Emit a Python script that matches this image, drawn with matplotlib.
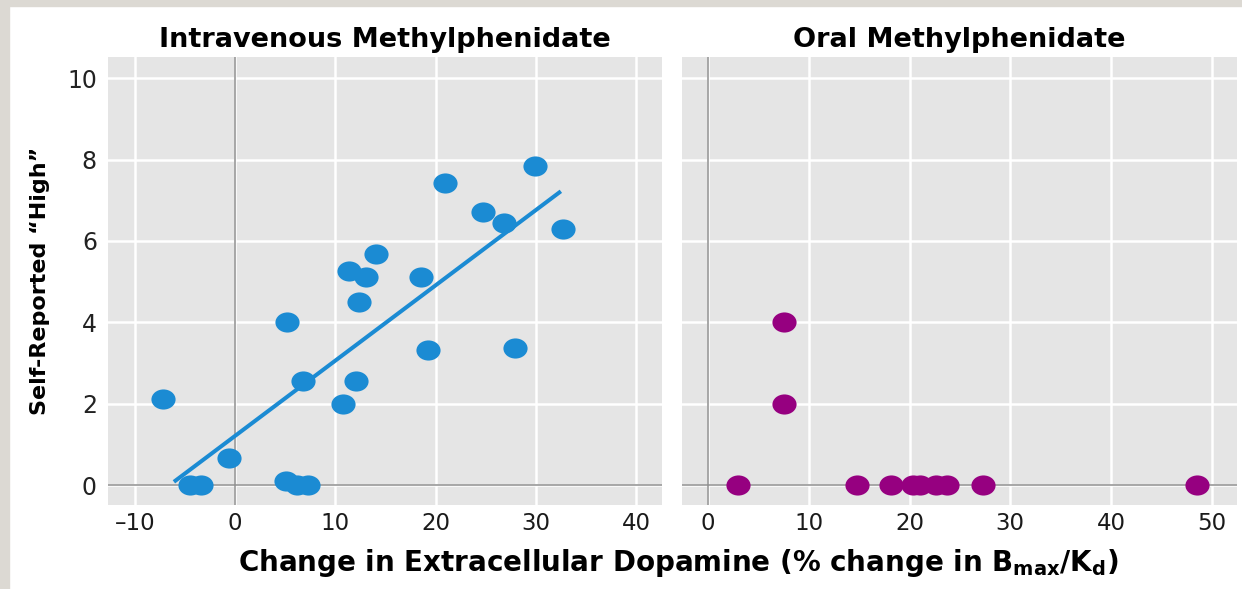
import matplotlib.pyplot as plt
from matplotlib.markers import MarkerStyle
from matplotlib.transforms import Affine2D

# Intravenous methylphenidate: dopamine change (%) vs self-reported high
iv_x = [-7.2, -4.5, -3.4, -0.6, 5.2, 5.1, 6.2, 7.3, 6.8, 10.8, 12.1, 12.4,
        11.4, 13.1, 14.1, 18.5, 19.2, 20.9, 24.7, 26.8, 27.9, 29.9, 32.7]
iv_y = [2.11, 0.0, 0.0, 0.67, 4.0, 0.1, 0.0, 0.0, 2.55, 1.99, 2.55, 4.49,
        5.27, 5.11, 5.67, 5.11, 3.32, 7.43, 6.71, 6.44, 3.37, 7.84, 6.30]

# regression line drawn in the IV panel (end points)
fit_x = [-6.1, 32.5]
fit_y = [0.08, 7.22]

# Oral methylphenidate
oral_x = [3.0, 7.5, 7.5, 14.8, 18.2, 20.3, 21.0, 22.6, 23.7, 27.3, 48.5]
oral_y = [0.0, 4.0, 2.0, 0.0, 0.0, 0.0, 0.0, 0.0, 0.0, 0.0, 0.0]

iv_ticks = [-10, 0, 10, 20, 30, 40]
oral_ticks = [0, 10, 20, 30, 40, 50]
y_ticks = [0, 2, 4, 6, 8, 10]

BLUE = "#1b8bd3"
PURPLE = "#960080"
PANEL = "#e5e5e5"
SANS = "DejaVu Sans"

fig = plt.figure(figsize=(12.42, 5.89), dpi=100, facecolor="white")

# light grey frame strip along the top and left edge
fig.patches.append(plt.Rectangle((0, 0), 9 / 1242, 1, transform=fig.transFigure,
                                 color="#dcd9d3", zorder=0))
fig.patches.append(plt.Rectangle((0, 1 - 6 / 589), 1, 6 / 589, transform=fig.transFigure,
                                 color="#dcd9d3", zorder=0))

ax1 = fig.add_axes([0.0870, 0.1426, 0.4461, 0.7606])
ax2 = fig.add_axes([0.5491, 0.1426, 0.4469, 0.7606])

ell = MarkerStyle("o", transform=Affine2D().scale(1.2, 1.0))

for ax in (ax1, ax2):
    ax.set_facecolor(PANEL)
    for s in ax.spines.values():
        s.set_visible(False)
    ax.grid(True, color="white", linewidth=1.8)
    ax.set_axisbelow(True)
    ax.axhline(0, color="#8f8f8f", linewidth=1.1, zorder=1)
    ax.axvline(0, color="#8f8f8f", linewidth=1.1, zorder=1)
    ax.set_ylim(-0.49, 10.52)
    ax.set_yticks(y_ticks)
    ax.tick_params(length=0, pad=5)

# left panel
ax1.set_xlim(-12.67, 42.6)
ax1.set_xticks(iv_ticks)
ax1.set_xticklabels(["\u201310" if t < 0 else str(t) for t in iv_ticks],
                    family=SANS, fontsize=16.5, color="#1a1a1a")
ax1.set_yticklabels([str(t) for t in y_ticks], family=SANS,
                    fontsize=17, color="#222222")
ax1.tick_params(axis="y", pad=8)
ax1.plot(fit_x, fit_y, color=BLUE, linewidth=2.9, zorder=2, solid_capstyle="butt")
ax1.plot(iv_x, iv_y, linestyle="none", marker=ell, markersize=14.5,
         color=BLUE, markeredgewidth=0, zorder=3)
ax1.set_title("Intravenous Methylphenidate", family=SANS, fontsize=19.5,
              fontweight="bold", pad=7)
ax1.set_ylabel("Self-Reported \u201cHigh\u201d", family=SANS, fontsize=16,
               fontweight="bold", labelpad=12)

# right panel
ax2.set_xlim(-2.58, 52.5)
ax2.set_xticks(oral_ticks)
ax2.set_xticklabels([str(t) for t in oral_ticks], family=SANS, fontsize=16.5,
                    color="#1a1a1a")
ax2.set_yticklabels([])
ax2.plot(oral_x, oral_y, linestyle="none", marker=ell, markersize=14.5,
         color=PURPLE, markeredgewidth=0, zorder=3)
ax2.set_title("Oral Methylphenidate", family=SANS, fontsize=19.5,
              fontweight="bold", pad=7)

fig.text(0.546, 0.044, r"Change in Extracellular Dopamine (% change in B$_{\mathregular{max}}$/K$_{\mathregular{d}}$)",
         ha="center", va="center", family=SANS, fontsize=20, fontweight="bold")

fig.savefig("out.png", dpi=100, facecolor="white")
